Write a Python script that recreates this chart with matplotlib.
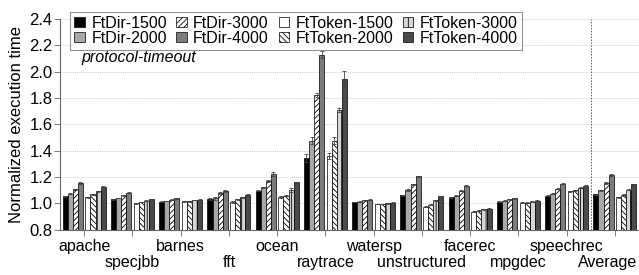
import numpy as np
import matplotlib
matplotlib.use("Agg")
import matplotlib.pyplot as plt

plt.rcParams["font.family"] = ["Liberation Sans", "DejaVu Sans"]
plt.rcParams["hatch.linewidth"] = 0.6

benchmarks = ["apache", "specjbb", "barnes", "fft", "ocean", "raytrace", "watersp",
              "unstructured", "facerec", "mpgdec", "speechrec", "Average"]

# normalized execution time per configuration
ftdir_1500 = [1.055, 1.030, 1.013, 1.033, 1.095, 1.344, 1.010, 1.060, 1.045, 1.012, 1.058, 1.068]
ftdir_2000 = [1.073, 1.040, 1.017, 1.038, 1.120, 1.476, 1.012, 1.100, 1.058, 1.020, 1.073, 1.100]
ftdir_3000 = [1.105, 1.060, 1.027, 1.078, 1.170, 1.822, 1.022, 1.145, 1.095, 1.030, 1.110, 1.155]
ftdir_4000 = [1.155, 1.080, 1.040, 1.093, 1.223, 2.130, 1.027, 1.205, 1.135, 1.037, 1.148, 1.213]
fttok_1500 = [1.045, 1.000, 1.015, 1.008, 1.048, 1.360, 0.995, 0.973, 0.935, 1.005, 1.093, 1.045]
fttok_2000 = [1.068, 1.010, 1.015, 1.030, 1.058, 1.476, 0.995, 0.990, 0.945, 1.005, 1.098, 1.063]
fttok_3000 = [1.093, 1.020, 1.025, 1.045, 1.098, 1.712, 1.000, 1.022, 0.955, 1.012, 1.118, 1.103]
fttok_4000 = [1.125, 1.030, 1.027, 1.063, 1.158, 1.947, 1.005, 1.052, 0.960, 1.020, 1.133, 1.145]

# error bar half-widths
err_dir_1500 = [0.004, 0.003, 0.003, 0.006, 0.004, 0.030, 0.002, 0.004, 0.004, 0.003, 0.003, 0.004]
err_dir_2000 = [0.004, 0.003, 0.003, 0.010, 0.005, 0.025, 0.002, 0.005, 0.004, 0.003, 0.004, 0.004]
err_dir_3000 = [0.005, 0.004, 0.003, 0.006, 0.006, 0.012, 0.003, 0.005, 0.005, 0.003, 0.004, 0.005]
err_dir_4000 = [0.006, 0.004, 0.004, 0.010, 0.015, 0.030, 0.003, 0.005, 0.006, 0.003, 0.005, 0.006]
err_tok_1500 = [0.004, 0.002, 0.002, 0.006, 0.004, 0.025, 0.002, 0.004, 0.004, 0.002, 0.004, 0.005]
err_tok_2000 = [0.004, 0.003, 0.003, 0.006, 0.005, 0.025, 0.002, 0.005, 0.004, 0.003, 0.004, 0.005]
err_tok_3000 = [0.004, 0.003, 0.003, 0.006, 0.015, 0.015, 0.002, 0.004, 0.004, 0.003, 0.004, 0.005]
err_tok_4000 = [0.005, 0.003, 0.003, 0.010, 0.005, 0.060, 0.002, 0.004, 0.004, 0.003, 0.004, 0.005]

series = [
    ("FtDir-1500", ftdir_1500, err_dir_1500, dict(color="#000000", hatch=None)),
    ("FtDir-2000", ftdir_2000, err_dir_2000, dict(color="#a8a8a8", hatch=None)),
    ("FtDir-3000", ftdir_3000, err_dir_3000, dict(color="#ffffff", hatch="//////")),
    ("FtDir-4000", ftdir_4000, err_dir_4000, dict(color="#7c7c7c", hatch=None)),
    ("FtToken-1500", fttok_1500, err_tok_1500, dict(color="#ffffff", hatch=None)),
    ("FtToken-2000", fttok_2000, err_tok_2000, dict(color="#ffffff", hatch="\\\\\\\\\\\\")),
    ("FtToken-3000", fttok_3000, err_tok_3000, dict(color="#d6d6d6", hatch="|||")),
    ("FtToken-4000", fttok_4000, err_tok_4000, dict(color="#4a4a4a", hatch=None)),
]

fig = plt.figure(figsize=(6.39, 2.75), dpi=100)
ax = fig.add_axes([0.094, 0.165, 0.906, 0.766])

x = np.arange(len(benchmarks))
w = 0.105
gap = 0.05
handles = []
for k, (name, vals, errs, st) in enumerate(series):
    if k < 4:
        off = -(4 * w + gap / 2) + w * (k + 0.5)
    else:
        off = gap / 2 + w * (k - 4 + 0.5)
    b = ax.bar(x + off, np.array(vals) - 0.8, w, bottom=0.8, color=st["color"],
               hatch=st["hatch"], edgecolor="black", linewidth=0.5, label=name,
               yerr=errs, error_kw=dict(ecolor="#444444", elinewidth=0.6,
                                        capsize=1.5, capthick=0.6), zorder=3)
    handles.append(b)

ax.set_ylim(0.8, 2.4)
ax.set_xlim(-0.5, len(benchmarks) - 0.5)
yt = np.arange(0.8, 2.41, 0.2)
ax.set_yticks(yt)
ax.set_yticklabels([f"{v:.1f}" for v in yt], fontsize=12)

# alternate labels on two rows: even groups as major ticks, odd groups as minor ticks
ax.set_xticks(x[::2])
ax.set_xticklabels(benchmarks[::2], fontsize=11.5)
ax.set_xticks(x[1::2], minor=True)
odd = benchmarks[1::2]
ax.set_xticklabels(odd[:-1] + [""], minor=True, fontsize=11.5)
# last label sits at the right edge; place it slightly left so it stays inside
ax.annotate(odd[-1], xy=(x[-1], 0), xycoords=("data", "axes fraction"),
            xytext=(-5, -18), textcoords="offset points", ha="center", va="top",
            fontsize=11.5)
ax.tick_params(axis="x", which="both", length=4, width=0.6, color="#666666")
ax.tick_params(axis="x", which="major", pad=2.5)
ax.tick_params(axis="x", which="minor", pad=14)
ax.tick_params(axis="y", length=4, width=0.6, color="#666666", pad=1.5)
ax.yaxis.grid(True, linestyle=(0, (1, 1.5)), color="#bbbbbb", linewidth=0.6, zorder=0)
ax.set_axisbelow(True)
for s in ["top", "right"]:
    ax.spines[s].set_visible(False)
for s in ["left", "bottom"]:
    ax.spines[s].set_color("#666666")
    ax.spines[s].set_linewidth(0.8)

ax.axvline(len(benchmarks) - 1.5, color="#555555", linestyle=(0, (1.5, 1.5)),
           linewidth=0.7, zorder=1)
ax.set_ylabel("Normalized execution time", fontsize=12, labelpad=4)
ax.text(0.036, 0.815, "protocol-timeout", transform=ax.transAxes, fontsize=11.5,
        style="italic", va="center")

leg = ax.legend(handles=handles, ncol=4, loc="upper left", bbox_to_anchor=(0.018, 1.035),
                fontsize=11.5, frameon=True, fancybox=False, borderpad=0.25,
                handlelength=0.65, handleheight=0.65, handletextpad=0.4,
                columnspacing=0.6, labelspacing=0.0, borderaxespad=0)
leg.get_frame().set_edgecolor("#777777")
leg.get_frame().set_linewidth(0.8)

fig.savefig("out.png", dpi=100)
